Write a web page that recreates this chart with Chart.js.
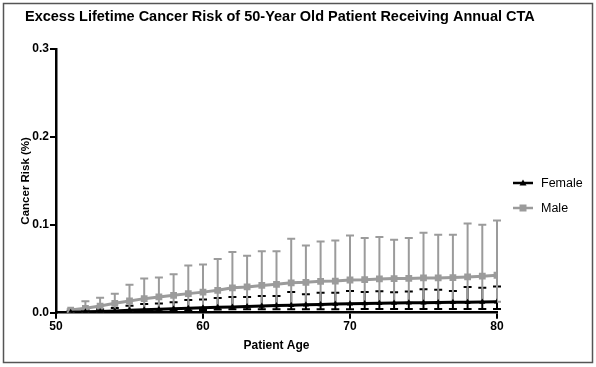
<!DOCTYPE html>
<html>
<head>
<meta charset="utf-8">
<script src="https://cdn.jsdelivr.net/npm/chart.js@4"></script>
<style>
  html, body { margin: 0; padding: 0; background: #fff; }
  #wrap { width: 596px; height: 367px; }
</style>
</head>
<body>
<div id="wrap"><canvas id="chart" width="596" height="367"></canvas></div>
<script>
const TITLE = 'Excess Lifetime Cancer Risk of 50-Year Old Patient Receiving Annual CTA';
const X_TICKS = [50, 60, 70, 80];
const Y_TICKS = [0.0, 0.1, 0.2, 0.3];
const ages = [51,52,53,54,55,56,57,58,59,60,61,62,63,64,65,66,67,68,69,70,71,72,73,74,75,76,77,78,79,80];

// male: mean, upper bar end, lower bar end
const maleRisk  = [0.003,0.005,0.0076,0.0107,0.0133,0.016,0.0179,0.0198,0.0217,0.0234,0.0255,0.0283,0.0293,0.031,0.0323,0.034,0.0346,0.0357,0.036,0.0372,0.0376,0.0384,0.0388,0.039,0.0395,0.0395,0.040,0.0407,0.0415,0.0426];
const maleHigh  = [0.004,0.013,0.017,0.0216,0.0319,0.0388,0.040,0.0438,0.0536,0.0547,0.061,0.069,0.0647,0.070,0.070,0.084,0.0764,0.081,0.082,0.0877,0.085,0.086,0.083,0.085,0.091,0.0886,0.0886,0.1015,0.100,0.105];
const maleLow   = [0.0005,0.001,0.0015,0.002,0.0027,0.0033,0.0039,0.0045,0.005,0.0056,0.0061,0.0066,0.0071,0.0076,0.0081,0.0086,0.009,0.0094,0.0098,0.0102,0.0105,0.0108,0.011,0.0112,0.0114,0.0116,0.0118,0.012,0.0122,0.0125];

// female: mean, upper bar end, lower bar end
const femaleRisk = [0.0005,0.001,0.0015,0.002,0.0027,0.0033,0.0039,0.0045,0.005,0.0056,0.0061,0.0066,0.0071,0.0076,0.0081,0.0086,0.009,0.0094,0.0098,0.0102,0.0105,0.0108,0.011,0.0112,0.0114,0.0116,0.0118,0.012,0.0122,0.0125];
const femaleHigh = [0.002,0.003,0.004,0.0054,0.008,0.0099,0.0105,0.012,0.0145,0.015,0.0168,0.018,0.0178,0.019,0.019,0.0236,0.021,0.0228,0.0228,0.0247,0.0236,0.0244,0.0232,0.024,0.0267,0.026,0.0247,0.0293,0.0285,0.0297];
const femaleLow  = [0,0,0,0,0.0005,0.001,0.0015,0.002,0.0025,0.003,0.0035,0.004,0.004,0.004,0.004,0.004,0.004,0.004,0.004,0.004,0.0042,0.0042,0.0042,0.0042,0.0042,0.0042,0.0042,0.0042,0.0042,0.0042];

const FONT = "'Liberation Sans', Arial, sans-serif";
const GRAY = '#9b9b9b';

const pts = arr => ages.map((a, i) => ({ x: a, y: arr[i] }));

// error bars drawn under the lines, female first so the male bar sits over it
const errorBars = {
  id: 'errorBars',
  beforeDatasetsDraw(chart) {
    const { ctx, chartArea, scales: { x, y } } = chart;
    ctx.save();
    ctx.beginPath();
    ctx.rect(chartArea.left, chartArea.top - 2, chartArea.width + 4, chartArea.height + 2);
    ctx.clip();
    [[femaleLow, femaleHigh, '#000'], [maleLow, maleHigh, GRAY]].forEach(([lo, hi, col]) => {
      ctx.strokeStyle = col;
      ctx.lineWidth = 2;
      ages.forEach((a, i) => {
        const px = x.getPixelForValue(a), y1 = y.getPixelForValue(lo[i]), y2 = y.getPixelForValue(hi[i]);
        ctx.beginPath();
        ctx.moveTo(px, y1); ctx.lineTo(px, y2);
        ctx.moveTo(px - 4, y2); ctx.lineTo(px + 4, y2);
        ctx.moveTo(px - 4, y1); ctx.lineTo(px + 4, y1);
        ctx.stroke();
      });
    });
    ctx.restore();
  },
  afterDraw(chart) {
    const { ctx } = chart;
    ctx.save();
    // frame
    ctx.strokeStyle = '#555';
    ctx.lineWidth = 1.5;
    ctx.strokeRect(3.5, 3.5, 589, 359);
    // title
    ctx.fillStyle = '#000';
    ctx.font = `bold 14.5px ${FONT}`;
    ctx.textBaseline = 'middle';
    ctx.fillText(TITLE, 25, 17);
    // legend
    ctx.font = `12.5px ${FONT}`;
    chart.data.datasets.forEach((ds, i) => {
      const ly = 183 + i * 25;
      ctx.strokeStyle = ds.borderColor;
      ctx.lineWidth = 2.5;
      ctx.beginPath(); ctx.moveTo(513, ly); ctx.lineTo(533, ly); ctx.stroke();
      ctx.fillStyle = ds.borderColor;
      if (ds.pointStyle === 'rect') ctx.fillRect(519.5, ly - 3.5, 7, 7);
      else { ctx.beginPath(); ctx.moveTo(523, ly - 3.5); ctx.lineTo(526.5, ly + 2.5); ctx.lineTo(519.5, ly + 2.5); ctx.closePath(); ctx.fill(); }
      ctx.fillStyle = '#000';
      ctx.fillText(ds.label, 541, ly + 1);
    });
    ctx.restore();
  }
};

new Chart(document.getElementById('chart'), {
  type: 'line',
  data: {
    datasets: [
      { label: 'Female', data: pts(femaleRisk), borderColor: '#000', backgroundColor: '#000', borderWidth: 3,
        pointStyle: 'triangle', pointRadius: 3.5, pointBorderWidth: 0, tension: 0, order: 1 },
      { label: 'Male', data: pts(maleRisk), borderColor: GRAY, backgroundColor: GRAY, borderWidth: 3,
        pointStyle: 'rect', pointRadius: 4.8, pointBorderWidth: 0, tension: 0, order: 2 }
    ]
  },
  options: {
    responsive: false,
    animation: false,
    devicePixelRatio: 1,
    layout: { padding: { top: 49, right: 99, bottom: 0, left: 0 } },
    plugins: { legend: { display: false }, tooltip: { enabled: false } },
    scales: {
      x: {
        type: 'linear', min: 50, max: 80,
        afterBuildTicks: s => { s.ticks = X_TICKS.map(v => ({ value: v })); },
        afterFit: s => { s.height = 54.3; },
        ticks: { color: '#000', font: { family: FONT, size: 12, weight: 'bold' }, padding: 1 },
        grid: { drawOnChartArea: false, tickLength: 6, color: '#000', lineWidth: 2 },
        border: { color: '#000', width: 2.5 },
        title: { display: true, text: 'Patient Age', color: '#000', font: { family: FONT, size: 12, weight: 'bold' }, padding: { top: 2, bottom: 14 } }
      },
      y: {
        min: 0, max: 0.3,
        afterBuildTicks: s => { s.ticks = Y_TICKS.map(v => ({ value: v })); },
        afterFit: s => { s.width = 56; },
        ticks: { color: '#000', font: { family: FONT, size: 12, weight: 'bold' }, padding: 1, callback: v => v.toFixed(1) },
        grid: { drawOnChartArea: false, tickLength: 6, color: '#000', lineWidth: 2 },
        border: { color: '#000', width: 2.5 },
        title: { display: true, text: 'Cancer Risk (%)', color: '#000', font: { family: FONT, size: 11.5, weight: 'bold' }, padding: { top: 19, bottom: 0 } }
      }
    }
  },
  plugins: [errorBars]
});
</script>
</body>
</html>
